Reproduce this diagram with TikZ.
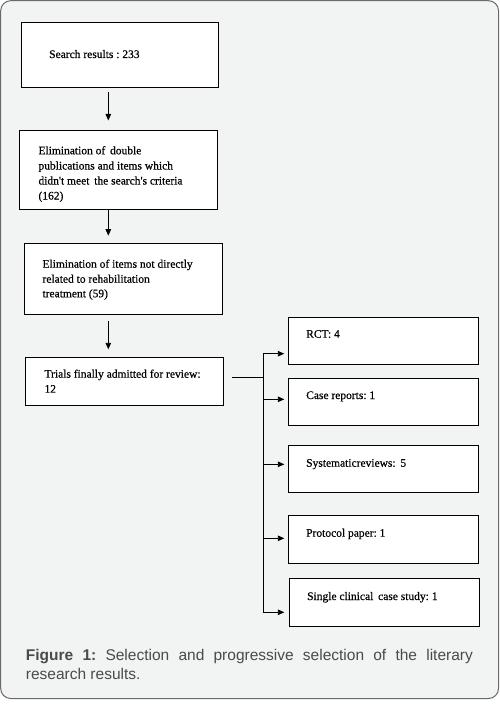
\documentclass[tikz,border=0pt]{standalone}
\usepackage{fontspec}
\setmainfont{Liberation Serif}
\newfontfamily\boxfont[FakeBold=0.5]{Liberation Serif}
\newfontfamily\capfont{Liberation Sans}
\usetikzlibrary{arrows.meta,calc}
\frenchspacing
\definecolor{panelfill}{HTML}{F2F3F3}
\definecolor{panelline}{HTML}{6A6A6A}
\definecolor{captext}{HTML}{4A4A4A}
\tikzset{
  box/.style={draw=black, fill=white, line width=0.9pt, inner sep=0pt, anchor=north west},
  txt/.style={anchor=base west, inner sep=0pt, font=\boxfont\fontsize{11.5}{15}\selectfont, text=black},
  captxt/.style={anchor=base west, inner sep=0pt, font=\capfont\fontsize{15.5}{19}\selectfont, text=captext},
  link/.style={draw=black, line width=0.9pt},
  arr/.style={link, -{Triangle[length=6.5pt,width=5.5pt]}}
}
\begin{document}
\begin{tikzpicture}[x=1pt,y=-1pt]
\useasboundingbox (0,0) rectangle (500,714);
\fill[white] (0,0) rectangle (500,714);
\draw[rounded corners=10pt, fill=panelfill, draw=panelline, line width=1pt] (0.7,0.7) rectangle (498.5,698.5);

% left column boxes
\node[box, minimum width=197pt, minimum height=65pt] (b1) at (20.7,22.3) {};
\node[box, minimum width=197.4pt, minimum height=79.3pt] (b2) at (19.3,130) {};
\node[box, minimum width=197.4pt, minimum height=71pt] (b3) at (24.3,243.3) {};
\node[box, minimum width=197.4pt, minimum height=48pt] (b4) at (25.3,357.3) {};

\node[txt] (t1) at (49,58) {Search results : 233};
\node[txt] (t2a) at (38.3,154.3) {Elimination of\, double};
\node[txt] (t2b) at (38.3,169.5) {publications and items which};
\node[txt] (t2c) at (38.3,184.5) {didn't meet\, the search's criteria};
\node[txt] (t2d) at (38.3,199.5) {(162)};
\node[txt] (t3a) at (42.3,267.7) {Elimination of items not directly};
\node[txt] (t3b) at (42.3,282.7) {related to rehabilitation};
\node[txt] (t3c) at (42.3,297.3) {treatment (59)};
\node[txt] (t4a) at (44.3,377.7) {Trials finally admitted for review:};
\node[txt] (t4b) at (44.3,392.7) {12};

% right column boxes
\node[box, minimum width=190pt, minimum height=47pt] (r1) at (288.3,317.3) {};
\node[box, minimum width=190pt, minimum height=47.6pt] (r2) at (288.3,377.7) {};
\node[box, minimum width=190pt, minimum height=47.6pt] (r3) at (288.3,444.7) {};
\node[box, minimum width=190pt, minimum height=48.3pt] (r4) at (288.3,515) {};
\node[box, minimum width=190pt, minimum height=47.4pt] (r5) at (289.3,578.3) {};

\node[txt] (s1) at (306,337.7) {RCT: 4};
\node[txt] (s2) at (306,399) {Case reports: 1};
\node[txt] (s3) at (306,466.7) {Systematicreviews:\, 5};
\node[txt] (s4) at (306,536.7) {Protocol paper: 1};
\node[txt] (s5) at (307,600) {Single clinical\, case study: 1};

% vertical arrows
\coordinate (ax) at (108.3,0);
\draw[arr] ($(b1.south -| ax)+(0,3.4)$) -- ($(b2.north -| ax)+(0,-9.5)$);
\draw[arr] (b2.south -| ax) -- ($(b3.north -| ax)+(0,-7.6)$);
\draw[arr] ($(b3.south -| ax)+(0,5.7)$) -- ($(b4.north -| ax)+(0,-8)$);

% branching connector
\coordinate (j) at (263.3,377.7);
\coordinate (ya) at (0,353.7);
\coordinate (yb) at (0,399.3);
\coordinate (yc) at (0,464.3);
\coordinate (yd) at (0,538.3);
\coordinate (ye) at (0,612.3);
\draw[link] ($(b4.east |- j)+(8.6,0)$) -- (j);
\draw[link] (j |- ya) -- (j |- ye);
\draw[arr] (j |- ya) -- ($(r1.west |- ya)+(-4,0)$);
\draw[arr] (j |- yb) -- ($(r2.west |- yb)+(-4,0)$);
\draw[arr] (j |- yc) -- ($(r3.west |- yc)+(-4,0)$);
\draw[arr] (j |- yd) -- ($(r4.west |- yd)+(-4,0)$);
\draw[arr] (j |- ye) -- ($(r5.west |- ye)+(-5,0)$);

% caption
\node[captxt] (c1) at (25.7,660) {\makebox[447pt][s]{\textbf{Figure 1:} Selection and progressive selection of the literary}};
\node[captxt] (c2) at (25.7,679) {research results.};
\end{tikzpicture}
\end{document}
